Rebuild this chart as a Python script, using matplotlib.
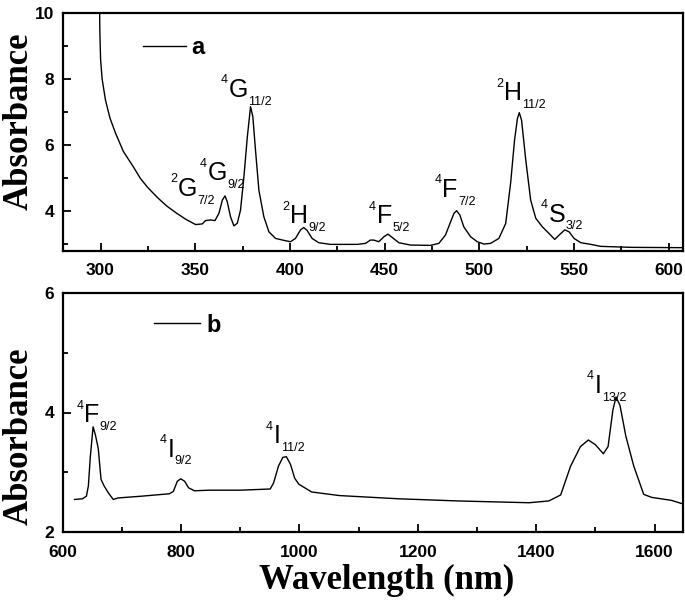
import matplotlib
matplotlib.use("Agg")
import matplotlib.pyplot as plt
from matplotlib.ticker import MultipleLocator

# ---------------- data ----------------
wl_a = [299.5, 299.6, 300.0, 300.8, 302.6, 305.0, 307.9, 312.0, 317.4, 321.0,
        324.8, 330.0, 335.0, 340.0, 345.0, 350.2, 353.7, 355.4, 358.1, 360.4,
        362.5, 364.3, 365.7, 366.9, 368.6, 370.4, 372.2, 373.9, 375.7, 377.5,
        379.2, 380.4, 381.8, 383.6, 386.2, 388.9, 392.4, 397.7, 400.3, 402.9,
        405.6, 407.3, 409.1, 411.7, 415.2, 421.4, 435.5, 439.9, 442.5, 444.3,
        446.9, 449.6, 451.7, 454.0, 457.5, 463.6, 474.2, 478.6, 482.1, 484.8,
        486.6, 488.0, 489.7, 491.8, 495.4, 498.9, 502.4, 505.9, 510.3, 513.9,
        516.5, 518.6, 520.1, 521.1, 522.3, 524.5, 527.1, 529.8, 533.3, 536.8,
        539.8, 542.1, 545.1, 547.4, 550.0, 553.6, 558.9, 564.0, 580.0, 607.8]
abs_a = [10.3, 9.50, 8.60, 8.00, 7.35, 6.80, 6.35, 5.80, 5.32, 4.98,
         4.71, 4.40, 4.14, 3.93, 3.74, 3.58, 3.60, 3.70, 3.72, 3.70,
         3.92, 4.32, 4.45, 4.27, 3.82, 3.54, 3.62, 4.02, 5.03, 6.24,
         7.15, 6.85, 5.84, 4.62, 3.82, 3.36, 3.16, 3.09, 3.06, 3.16,
         3.42, 3.49, 3.40, 3.16, 3.03, 2.98, 2.98, 3.01, 3.11, 3.11,
         3.06, 3.21, 3.29, 3.19, 3.03, 2.96, 2.95, 3.01, 3.26, 3.66,
         3.92, 4.00, 3.87, 3.51, 3.21, 3.06, 2.99, 3.01, 3.16, 3.61,
         4.83, 6.14, 6.79, 6.97, 6.74, 5.54, 4.32, 3.77, 3.51, 3.31,
         3.13, 3.26, 3.42, 3.36, 3.16, 3.03, 2.98, 2.92, 2.89, 2.88]

wl_b = [620.0, 633.4, 640.1, 643.4, 646.7, 651.4, 655.4, 660.1, 664.8, 670.1,
        676.8, 685.5, 693.5, 733.6, 780.3, 787.0, 793.7, 799.5, 806.0, 812.7,
        822.7, 847.1, 900.5, 950.6, 956.3, 964.5, 972.0, 978.0, 985.0, 992.0,
        999.0, 1020.7, 1067.5, 1167.6, 1267.8, 1388.0, 1421.4, 1441.4, 1458.1,
        1474.8, 1488.2, 1500.2, 1513.5, 1521.5, 1529.6, 1534.9, 1541.6, 1551.6,
        1565.0, 1581.7, 1595.0, 1628.4, 1648.0]
abs_b = [2.545, 2.556, 2.60, 2.77, 3.26, 3.76, 3.62, 3.40, 2.88, 2.77,
         2.66, 2.545, 2.57, 2.60, 2.64, 2.68, 2.85, 2.89, 2.85, 2.74,
         2.69, 2.70, 2.70, 2.72, 2.82, 3.10, 3.25, 3.26, 3.13, 2.90,
         2.80, 2.67, 2.61, 2.556, 2.52, 2.49, 2.52, 2.62, 3.10,
         3.43, 3.54, 3.46, 3.31, 3.43, 4.04, 4.26, 4.12, 3.60,
         3.10, 2.63, 2.58, 2.53, 2.47]

# level labels: (superscript, letter, subscript, x, y)
levels_a = [("2", "G", "7/2", 340.6, 4.45),
            ("4", "G", "9/2", 356.5, 4.92),
            ("4", "G", "11/2", 367.6, 7.45),
            ("2", "H", "9/2", 399.8, 3.62),
            ("4", "F", "5/2", 445.7, 3.62),
            ("4", "F", "7/2", 480.4, 4.42),
            ("2", "H", "11/2", 512.8, 7.35),
            ("4", "S", "3/2", 536.5, 3.67)]
levels_b = [("4", "F", "9/2", 635.4, 3.84),
            ("4", "I", "9/2", 777.0, 3.26),
            ("4", "I", "11/2", 956.0, 3.49),
            ("4", "I", "13/2", 1498.6, 4.33)]

xlim_a = (280, 607.5)
ylim_a = (2.78, 10)
xlim_b = (600, 1648)
ylim_b = (2, 6)

SANS = "Liberation Sans"
SERIF = "Liberation Serif"

fig = plt.figure(figsize=(6.85, 6.0), dpi=100)
ax1 = fig.add_axes([0.0915, 0.5817, 0.9055, 0.3973])
ax2 = fig.add_axes([0.0915, 0.1133, 0.9055, 0.3984])


def style(ax, xmaj, xmin, ymaj, ymin):
    for s in ax.spines.values():
        s.set_linewidth(1.6)
    ax.xaxis.set_major_locator(MultipleLocator(xmaj))
    ax.xaxis.set_minor_locator(MultipleLocator(xmin))
    ax.yaxis.set_major_locator(MultipleLocator(ymaj))
    ax.yaxis.set_minor_locator(MultipleLocator(ymin))
    ax.tick_params(which="both", direction="in", top=False, right=False, width=1.3)
    ax.tick_params(which="major", length=6)
    ax.tick_params(which="minor", length=3.5)
    ax.tick_params(axis="x", which="major", pad=9)
    ax.tick_params(axis="y", which="major", pad=6)
    for lab in ax.get_xticklabels() + ax.get_yticklabels():
        lab.set_fontfamily(SANS)
        lab.set_fontweight("bold")
        lab.set_fontsize(12.5)


def level(ax, sup, letter, sub, x, y):
    t = ax.text(x, y, letter, fontsize=18, ha="left", va="baseline", family=SANS)
    ax.annotate(sup, xy=(0, 1), xycoords=t, xytext=(-0.3, 2.5),
                textcoords="offset points", ha="right", va="top",
                fontsize=9, family=SANS)
    ax.annotate(sub, xy=(1, 0), xycoords=t, xytext=(0.3, 4.5),
                textcoords="offset points", ha="left", va="top",
                fontsize=9, family=SANS)


ax1.plot(wl_a, abs_a, color="black", lw=1.0, label="a")
ax1.set_xlim(*xlim_a)
ax1.set_ylim(*ylim_a)
style(ax1, 50, 25, 2, 1)
ax1.set_ylabel("Absorbance", family=SERIF, fontweight="bold", fontsize=25)
ax1.yaxis.set_label_coords(-0.044, 0.545)
for lv in levels_a:
    level(ax1, *lv)
ax1.legend(frameon=False, loc="center left", bbox_to_anchor=(0.130, 0.852),
           borderaxespad=0, borderpad=0, handlelength=1.8, handletextpad=0.25,
           prop={"family": SANS, "weight": "bold", "size": 17})

ax2.plot(wl_b, abs_b, color="black", lw=1.0, label="b")
ax2.set_xlim(*xlim_b)
ax2.set_ylim(*ylim_b)
style(ax2, 200, 100, 2, 1)
ax2.set_ylabel("Absorbance", family=SERIF, fontweight="bold", fontsize=25)
ax2.yaxis.set_label_coords(-0.044, 0.40)
ax2.set_xlabel("Wavelength (nm)", family=SERIF, fontweight="bold", fontsize=25)
ax2.xaxis.set_label_coords(0.523, -0.135)
for lv in levels_b:
    level(ax2, *lv)
ax2.legend(frameon=False, loc="center left", bbox_to_anchor=(0.1465, 0.866),
           borderaxespad=0, borderpad=0, handlelength=1.95, handletextpad=0.3,
           prop={"family": SANS, "weight": "bold", "size": 17})

fig.savefig("out.png", dpi=100)
